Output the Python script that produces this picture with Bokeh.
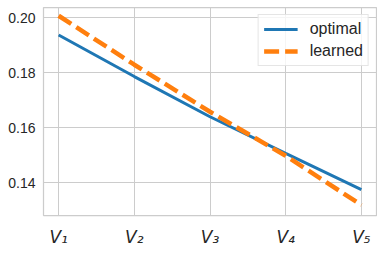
from bokeh.plotting import figure
from bokeh.models import FixedTicker, Legend, LegendItem, Range1d
from bokeh.embed import file_html
from bokeh.resources import INLINE

x_pos = [0, 1, 2, 3, 4]
x_labels = ["V\u2081", "V\u2082", "V\u2083", "V\u2084", "V\u2085"]
optimal = [0.1937, 0.1786, 0.1640, 0.1507, 0.1375]
learned = [0.2007, 0.1829, 0.1658, 0.1498, 0.1319]
y_ticks = [0.14, 0.16, 0.18, 0.20]
y_tick_labels = ["0.14", "0.16", "0.18", "0.20"]

p = figure(width=377, height=249, output_backend="svg", toolbar_location=None,
           x_range=Range1d(-0.2, 4.2), y_range=Range1d(0.1281, 0.2037),
           min_border_left=43, min_border_right=1, min_border_top=7, min_border_bottom=31)
p.background_fill_color = "white"
p.border_fill_color = "white"
p.outline_line_color = "#cccccc"
p.outline_line_width = 1.25

r1 = p.line(x_pos, optimal, line_color="#1f77b4", line_width=3)
r2 = p.line(x_pos, learned, line_color="#ff7f0e", line_width=4.5, line_dash="15 6")

for ax in (p.xaxis[0], p.yaxis[0]):
    ax.axis_line_color = None
    ax.major_tick_line_color = None
    ax.minor_tick_line_color = None
    ax.major_tick_out = 0
    ax.major_tick_in = 0
    ax.minor_tick_out = 0
    ax.minor_tick_in = 0
    ax.major_label_text_color = "#262626"

p.xaxis[0].ticker = FixedTicker(ticks=x_pos)
p.xaxis[0].major_label_overrides = {x: lab for x, lab in zip(x_pos, x_labels)}
p.xaxis[0].major_label_text_font = "DejaVu Sans"
p.xaxis[0].major_label_text_font_style = "italic"
p.xaxis[0].major_label_text_font_size = "17px"
p.xaxis[0].major_label_standoff = 11

p.yaxis[0].ticker = FixedTicker(ticks=y_ticks)
p.yaxis[0].major_label_overrides = {t: lab for t, lab in zip(y_ticks, y_tick_labels)}
p.yaxis[0].major_label_text_font = "Liberation Sans"
p.yaxis[0].major_label_text_font_size = "14px"
p.yaxis[0].major_label_standoff = 8

p.xgrid[0].ticker = FixedTicker(ticks=x_pos)
p.ygrid[0].ticker = FixedTicker(ticks=y_ticks)
for g in (p.xgrid[0], p.ygrid[0]):
    g.grid_line_color = "#cccccc"
    g.grid_line_width = 1

legend = Legend(items=[LegendItem(label="optimal", renderers=[r1]),
                       LegendItem(label="learned", renderers=[r2])],
                location="top_right", margin=7, padding=5, spacing=4,
                glyph_width=34, glyph_height=18, label_height=18, label_standoff=12,
                label_text_font="Liberation Sans", label_text_font_size="16px",
                label_text_color="#262626", border_line_color="#cccccc",
                border_line_width=1, background_fill_color="white",
                background_fill_alpha=0.8)
p.add_layout(legend, "center")

open("out.html", "w").write(file_html(p, INLINE))
